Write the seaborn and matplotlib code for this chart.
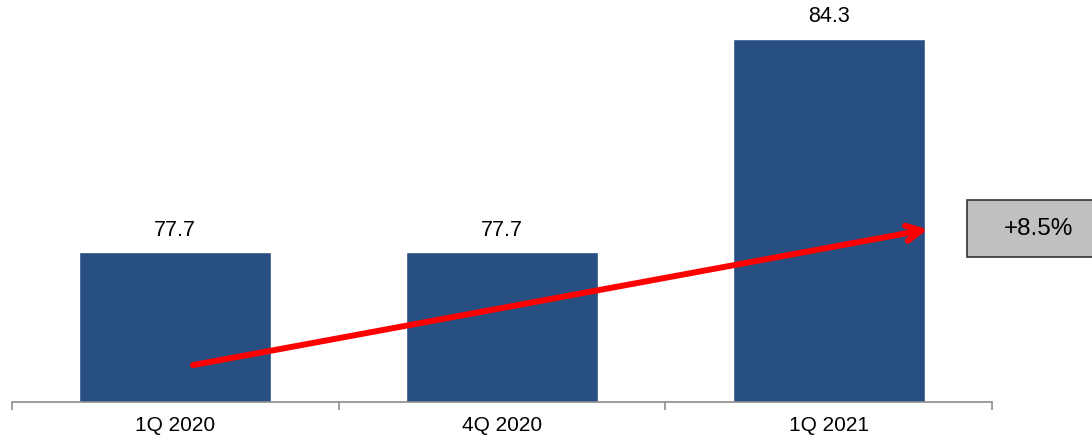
import matplotlib
matplotlib.use("Agg")
import matplotlib.pyplot as plt
import seaborn as sns
import pandas as pd
from matplotlib.patches import Rectangle

# data
quarters = ["1Q 2020", "4Q 2020", "1Q 2021"]
volumes = [77.7, 77.7, 84.3]

bar_color = "#274F82"
df = pd.DataFrame({"quarter": quarters, "value": volumes})

sns.set_style("white")
plt.rcParams["font.family"] = ["Liberation Sans", "DejaVu Sans"]

fig = plt.figure(figsize=(10.92, 4.43), dpi=100)
ax = fig.add_axes([0.011, 0.0926, 0.8974, 0.9074])

sns.barplot(data=df, x="quarter", y="value", color=bar_color, saturation=1,
            width=0.588, ax=ax)

ax.set_ylim(73.07, 85.5)
ax.set_xlim(-0.5, len(quarters) - 0.5)

for i, v in enumerate(volumes):
    ax.annotate(f"{v:.1f}", (i, v), xytext=(0, 16), textcoords="offset points",
                ha="center", va="center", fontsize=15.5, color="black")

# axis styling
for s in ["top", "right", "left"]:
    ax.spines[s].set_visible(False)
ax.spines["bottom"].set_color("#8C8C8C")
ax.spines["bottom"].set_linewidth(1.2)
ax.set_yticks([])
ax.set_xlabel("")
ax.set_ylabel("")
ax.set_xticks(range(len(quarters)))
ax.set_xticklabels(quarters, fontsize=15, color="black")
ax.tick_params(axis="x", which="major", length=0, pad=10)
ax.set_xticks([i - 0.5 for i in range(len(quarters) + 1)], minor=True)
ax.tick_params(axis="x", which="minor", bottom=True, length=6, width=1.2,
               color="#8C8C8C", direction="out")

# growth arrow from first to last quarter
growth = (volumes[-1] / volumes[0] - 1) * 100
ax.annotate("", xy=(2.304, 78.41), xytext=(0.054, 74.21),
            arrowprops=dict(arrowstyle="->,head_length=1.1,head_width=0.55",
                            color="#FF0000", lw=4.3, shrinkA=0, shrinkB=0))

# growth box on the right (runs past the figure edge)
box = Rectangle((967 / 1092, 1 - 257 / 443), 140 / 1092, 57 / 443,
                transform=fig.transFigure, facecolor="#C0C0C0",
                edgecolor="#333333", linewidth=1.2)
fig.patches.append(box)
fig.text(1039 / 1092, 1 - 229 / 443, f"+{growth:.1f}%", ha="center",
         va="center", fontsize=17.5, color="black")

fig.savefig("out.png", dpi=100)
